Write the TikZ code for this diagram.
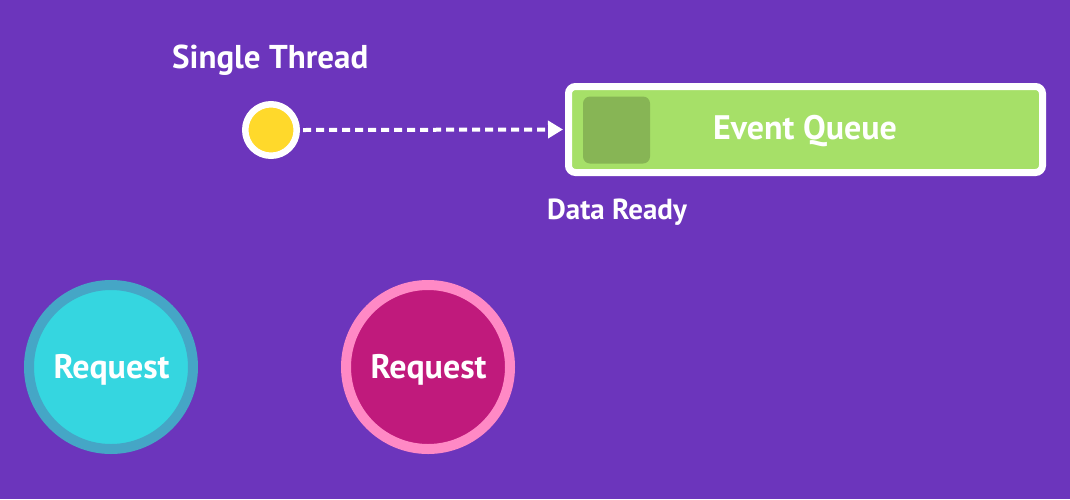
\documentclass[tikz,border=0pt]{standalone}
\usepackage{fontspec}
\setmainfont{PT Sans}
\usetikzlibrary{arrows.meta}
\definecolor{bgpurple}{HTML}{6C35BC}
\definecolor{dotyellow}{HTML}{FFD92B}
\definecolor{qgreen}{HTML}{A6E068}
\definecolor{qdark}{HTML}{87B555}
\definecolor{cyanfill}{HTML}{35D6E0}
\definecolor{cyanring}{HTML}{45A6C6}
\definecolor{magfill}{HTML}{C01A7C}
\definecolor{magring}{HTML}{FF89C5}
\tikzset{
  lbl/.style={text=white, font=\fontsize{#1}{36}\selectfont\bfseries, inner sep=0pt},
  reqcircle/.style={circle, line width=10pt, minimum size=164pt, inner sep=0pt},
}
\begin{document}
\begin{tikzpicture}[x=1pt,y=-1pt]
\fill[bgpurple] (0,0) rectangle (1070,499);
\useasboundingbox (0,0) rectangle (1070,499);
\node[lbl=33, anchor=base west] (st) at (172,68) {Single Thread};
\node[circle, draw=white, line width=6.5pt, fill=dotyellow, minimum size=51.5pt, inner sep=0pt] (dot) at (271,130) {};
\node[rectangle, rounded corners=7pt, draw=white, line width=7pt, fill=qgreen, minimum width=474pt, minimum height=86pt, inner sep=0pt] (eq) at (805.5,129.5) {};
\node[lbl=34, anchor=base] (eqt) at (805,139) {Event Queue};
\node[rectangle, rounded corners=7pt, fill=qdark, minimum size=67pt, inner sep=0pt] (sq) at (616.5,130) {};
\node[lbl=29, anchor=base west] (dr) at (547,219) {Data Ready};
\draw[white, line width=4pt, dash pattern=on 8pt off 5pt, -{Triangle[length=15pt,width=17pt]}] ([xshift=3pt]dot.east) -- ([xshift=-2pt]eq.west);
\node[reqcircle, draw=cyanring, fill=cyanfill] (r1) at (111,367) {};
\node[lbl=34, anchor=base] (r1t) at (111.5,378) {Request};
\node[reqcircle, draw=magring, fill=magfill] (r2) at (428,367) {};
\node[lbl=34, anchor=base] (r2t) at (428.5,378) {Request};
\end{tikzpicture}
\end{document}
